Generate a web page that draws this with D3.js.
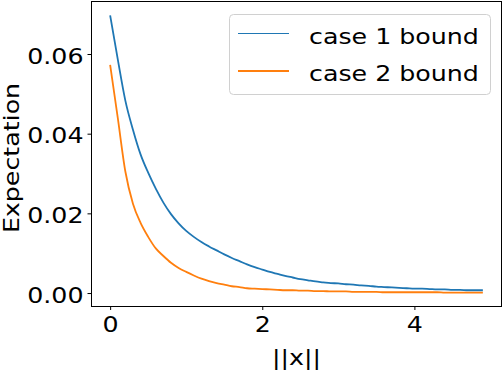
<!DOCTYPE html>
<html>
<head>
<meta charset="utf-8">
<script src="https://cdn.jsdelivr.net/npm/d3@7"></script>
<style>
  body { margin: 0; background: #fff; }
  text { font-family: "DejaVu Sans", sans-serif; fill: #000; }
</style>
</head>
<body>
<div id="chart"></div>
<script>
// values
var xs = [0.0, 0.1, 0.2, 0.3, 0.4, 0.5, 0.6, 0.7, 0.8, 0.9,
          1.0, 1.1, 1.2, 1.3, 1.4, 1.5, 1.6, 1.7, 1.8, 1.9,
          2.0, 2.1, 2.2, 2.3, 2.4, 2.5, 2.6, 2.7, 2.8, 2.9,
          3.0, 3.1, 3.2, 3.3, 3.4, 3.5, 3.6, 3.7, 3.8, 3.9,
          4.0, 4.1, 4.2, 4.3, 4.4, 4.5, 4.6, 4.7, 4.8, 4.9];
var case1 = [0.0697, 0.0587, 0.0483, 0.0410, 0.0348, 0.0302, 0.0262, 0.0227, 0.0198, 0.0175,
             0.0156, 0.0141, 0.0128, 0.0117, 0.0107, 0.0097, 0.0088, 0.0080, 0.0072, 0.0065,
             0.0059, 0.0053, 0.0048, 0.0043, 0.0039, 0.0035, 0.0032, 0.0029, 0.0027, 0.0025,
             0.0024, 0.0022, 0.0021, 0.0019, 0.0018, 0.0016, 0.0015, 0.0014, 0.0013, 0.0012,
             0.0011, 0.0011, 0.0010, 0.0009, 0.0009, 0.0008, 0.0008, 0.0007, 0.0007, 0.0007];
var case2 = [0.0573, 0.0440, 0.0305, 0.0224, 0.0176, 0.0141, 0.0112, 0.0093, 0.0076, 0.0063,
             0.0053, 0.0044, 0.0036, 0.0030, 0.0025, 0.0021, 0.0017, 0.0015, 0.0012, 0.0011,
             0.0010, 0.0009, 0.0008, 0.0007, 0.0007, 0.0006, 0.0006, 0.0005, 0.0005, 0.0004,
             0.0004, 0.0004, 0.0003, 0.0003, 0.0003, 0.0003, 0.0002, 0.0002, 0.0002, 0.0002,
             0.0002, 0.0002, 0.0002, 0.0002, 0.0001, 0.0001, 0.0001, 0.0001, 0.0001, 0.0001];
var seriesNames = ["case 1 bound", "case 2 bound"];
var xTicks = [0, 2, 4];
var yTicks = [0, 0.02, 0.04, 0.06];

var colors = ["#1f77b4", "#ff7f0e"],
    fontSize = 22,
    stretch = 1.15,   // glyphs in the picture are wider than plain DejaVu
    plotLeft = 91.5, plotRight = 501.5, plotTop = 1.5, plotBottom = 306.5;

var svg = d3.select("#chart").append("svg")
    .attr("width", 504)
    .attr("height", 370)
    .style("font-size", fontSize + "px");

// matplotlib style 5% margins
var xExt = d3.extent(xs),
    yExt = d3.extent(case1.concat(case2)),
    xPad = (xExt[1] - xExt[0]) * 0.05,
    yPad = (yExt[1] - yExt[0]) * 0.05;

var x = d3.scaleLinear().domain([xExt[0] - xPad, xExt[1] + xPad]).range([plotLeft, plotRight]);
var y = d3.scaleLinear().domain([yExt[0] - yPad, yExt[1] + yPad]).range([plotBottom, plotTop]);

var line = d3.line()
    .x(function(d) { return x(d[0]); })
    .y(function(d) { return y(d[1]); })
    .curve(d3.curveMonotoneX);

[case1, case2].forEach(function(vals, i) {
    svg.append("path")
        .datum(xs.map(function(v, j) { return [v, vals[j]]; }))
        .attr("fill", "none")
        .attr("stroke", colors[i])
        .attr("stroke-width", 1.8)
        .attr("d", line);
});

// axes
var xAxis = svg.append("g")
    .attr("transform", "translate(0," + plotBottom + ")")
    .call(d3.axisBottom(x).tickValues(xTicks).tickFormat(d3.format("d")).tickSize(3.5).tickSizeOuter(0));
xAxis.select(".domain").remove();
xAxis.selectAll("text")
    .attr("y", 25.5).attr("dy", null)
    .attr("font-size", fontSize)
    .attr("font-family", "DejaVu Sans")
    .attr("transform", "scale(" + stretch + ",1)");

var yAxis = svg.append("g")
    .attr("transform", "translate(" + plotLeft + ",0)")
    .call(d3.axisLeft(y).tickValues(yTicks).tickFormat(d3.format(".2f")).tickSize(4).tickSizeOuter(0));
yAxis.select(".domain").remove();
yAxis.selectAll("text")
    .attr("x", -8 / stretch).attr("dy", null).attr("y", 9)
    .attr("font-size", fontSize)
    .attr("font-family", "DejaVu Sans")
    .attr("transform", "scale(" + stretch + ",1)");

svg.selectAll(".tick line").attr("stroke", "#000").attr("stroke-width", 1);

// frame
svg.append("rect")
    .attr("x", plotLeft).attr("y", plotTop)
    .attr("width", plotRight - plotLeft).attr("height", plotBottom - plotTop)
    .attr("fill", "none").attr("stroke", "#000").attr("stroke-width", 1);

// axis titles
svg.append("text")
    .attr("text-anchor", "middle")
    .attr("transform", "translate(" + ((plotLeft + plotRight) / 2) + ",365) scale(" + stretch + ",1)")
    .text("||x||");

svg.append("text")
    .attr("text-anchor", "middle")
    .attr("transform", "translate(19," + ((plotTop + plotBottom) / 2 + 4) + ") rotate(-90) scale(" + stretch + ",1)")
    .text("Expectation");

// legend
var legend = svg.append("g");
legend.append("rect")
    .attr("x", 229.5).attr("y", 14.5)
    .attr("width", 261).attr("height", 80)
    .attr("rx", 4).attr("ry", 4)
    .attr("fill", "#fff").attr("fill-opacity", 0.8)
    .attr("stroke", "#d0d0d0").attr("stroke-width", 1);

var rows = legend.selectAll(".row")
    .data(seriesNames)
    .enter().append("g")
    .attr("class", "row")
    .attr("transform", function(d, i) { return "translate(0," + (33.5 + i * 37.4) + ")"; });

rows.append("line")
    .attr("x1", 238).attr("x2", 289)
    .attr("stroke", function(d, i) { return colors[i]; })
    .attr("stroke-width", function(d, i) { return i == 0 ? 1 : 2; });

rows.append("text")
    .attr("transform", "translate(309,10) scale(" + stretch + ",1)")
    .text(function(d) { return d; });
</script>
</body>
</html>
